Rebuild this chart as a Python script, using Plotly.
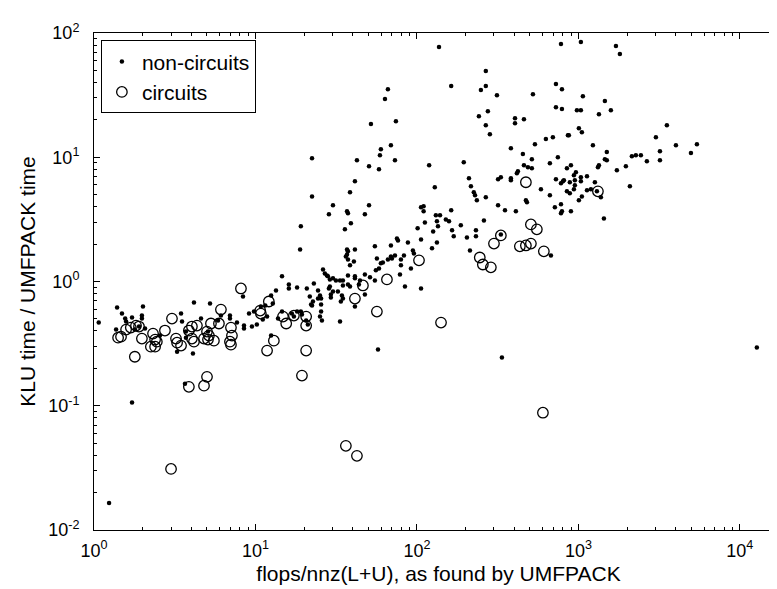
import math
import plotly.graph_objects as go

# ---- data (flops/nnz(L+U), KLU/UMFPACK time ratio) ----
noncircuit_flops = [
    1.07, 1.39, 1.49, 1.56, 1.58, 1.72, 1.98, 1.98, 2.01, 1.37,
    1.79, 1.90, 2.07, 2.56, 3.46, 3.51, 3.27, 3.71, 3.71, 4.16,
    4.10, 4.60, 5.23, 5.08, 5.86, 6.11, 6.95, 6.95, 7.68, 8.37,
    8.49, 8.49, 9.12, 9.79, 9.51, 10.2, 10.8, 11.5, 11.8, 1.24,
    1.72, 3.66, 12.5, 13.4, 12.8, 13.8, 14.6, 12.5, 16.8, 18.1,
    19.1, 19.4, 17.3, 22.4, 22.7, 16.1, 20.8, 11.1, 20.6, 21.1,
    33.4, 57.4, 14.6, 16.1, 18.1, 19.1, 18.9, 23.0, 24.4, 25.1,
    24.4, 21.7, 25.5, 22.1, 25.5, 25.5, 25.1, 25.8, 29.3, 29.3,
    26.2, 26.9, 27.7, 28.1, 28.9, 30.2, 31.5, 33.4, 34.8, 34.8,
    32.4, 28.9, 28.5, 30.2, 34.3, 34.8, 33.8, 41.3, 47.6, 37.4,
    38.5, 37.4, 41.3, 41.3, 43.7, 47.6, 44.4, 51.2, 54.9, 84.3,
    106, 28.5, 30.2, 36.9, 37.4, 35.8, 39.0, 47.6, 50.5, 36.9,
    37.4, 36.9, 36.3, 37.4, 41.3, 40.7, 38.5, 54.9, 69.0, 75.2,
    76.3, 87.9, 94.4, 95.8, 106, 110, 112, 101, 106, 83.1,
    79.6, 73.1, 69.0, 70.0, 66.1, 61.5, 56.5, 59.8, 58.2, 55.7,
    79.6, 78.5, 91.8, 137, 267, 163, 66.1, 63.4, 249, 267,
    313, 523, 726, 791, 726, 791, 780, 242, 275, 267,
    283, 405, 405, 460, 51.9, 74.1, 69.0, 59.8, 59.0, 58.2,
    73.1, 50.5, 42.5, 22.4, 119, 195, 382, 453, 538, 629,
    695, 746, 666, 515, 460, 487, 515, 422, 416, 382,
    382, 318, 331, 210, 216, 225, 229, 235, 267, 318,
    473, 480, 586, 666, 726, 802, 780, 715, 780, 129,
    110, 41.3, 38.5, 22.4, 849, 861, 351, 410, 791, 780,
    899, 1007, 1439, 163, 131, 139, 133, 135, 151, 158,
    126, 124, 133, 165, 169, 187, 204, 232, 232, 260,
    213, 331, 676, 336, 1036, 1708, 1807, 1066, 1459, 979,
    1036, 1340, 1589, 1007, 1051, 873, 1230, 1500, 1459, 1500,
    1340, 1321, 899, 965, 938, 1130, 1036, 1036, 813, 885,
    951, 951, 938, 1265, 849, 885, 1130, 1195, 1302, 1378,
    1051, 1731, 1968, 2144, 2270, 2438, 2655, 3199, 3199, 3020,
    3532, 4018, 4977, 5420, 2084, 12740,
]
noncircuit_ratio = [
    0.467, 0.617, 0.552, 0.503, 0.476, 0.513, 0.532, 0.503, 0.629, 0.410,
    0.410, 0.434, 0.418, 0.367, 0.552, 0.476, 0.272, 0.395, 0.353, 0.677,
    0.263, 0.503, 0.665, 0.395, 0.485, 0.532, 0.532, 0.503, 0.467, 0.757,
    0.442, 0.418, 0.552, 0.573, 0.434, 0.450, 0.629, 0.640, 0.522, 0.0165,
    0.106, 0.150, 0.771, 0.846, 0.665, 0.503, 0.573, 0.367, 0.552, 0.573,
    0.573, 0.542, 0.522, 0.640, 0.690, 0.879, 0.879, 0.494, 0.485, 0.450,
    0.476, 0.283, 1.10, 0.946, 0.895, 2.78, 1.81, 0.964, 0.846, 0.771,
    0.729, 0.757, 0.729, 0.653, 0.653, 0.573, 0.522, 0.485, 0.785, 0.743,
    1.25, 1.16, 1.12, 1.10, 1.04, 1.06, 1.02, 1.02, 1.02, 0.929,
    0.830, 0.911, 0.879, 0.830, 0.771, 0.729, 0.690, 0.629, 0.785, 1.12,
    0.911, 0.946, 1.10, 1.06, 0.946, 1.14, 1.02, 1.08, 1.02, 0.911,
    0.879, 3.47, 4.10, 3.67, 3.54, 2.63, 2.94, 3.47, 4.10, 1.81,
    1.75, 1.65, 1.59, 1.50, 1.81, 1.45, 1.35, 1.92, 1.95, 2.22,
    2.14, 2.06, 1.78, 1.68, 3.95, 3.67, 2.99, 2.68, 2.18, 1.62,
    1.50, 1.62, 1.59, 1.53, 1.50, 1.42, 1.53, 1.40, 1.27, 1.23,
    1.35, 1.14, 1.27, 77.1, 49.4, 37.4, 35.3, 29.4, 34.7, 37.4,
    31.6, 32.2, 38.8, 35.3, 25.3, 24.4, 81.5, 21.4, 23.5, 18.1,
    15.3, 20.6, 18.8, 20.2, 18.5, 19.5, 12.5, 11.6, 10.4, 8.00,
    9.46, 8.46, 9.46, 9.82, 8.62, 9.12, 11.8, 10.6, 12.7, 14.0,
    14.5, 10.0, 8.95, 9.63, 8.62, 8.30, 8.15, 7.71, 7.43, 6.77,
    6.53, 6.65, 6.90, 6.77, 5.84, 5.22, 4.94, 4.50, 4.76, 4.10,
    4.50, 4.34, 5.52, 4.94, 6.65, 6.40, 6.17, 3.95, 4.18, 5.73,
    4.03, 6.40, 5.22, 4.84, 8.15, 15.0, 3.74, 3.67, 3.67, 3.54,
    3.67, 4.50, 3.22, 3.74, 3.41, 3.41, 3.05, 2.78, 3.16, 3.05,
    2.53, 1.85, 2.06, 2.58, 2.31, 2.83, 2.26, 2.58, 2.31, 3.10,
    1.78, 2.39, 1.62, 0.244, 84.6, 78.5, 67.7, 31.0, 28.3, 23.9,
    23.9, 22.2, 23.9, 17.1, 15.9, 15.0, 12.5, 11.0, 9.63, 9.46,
    8.62, 8.30, 8.62, 7.57, 7.16, 7.03, 6.90, 6.40, 6.53, 6.29,
    6.53, 5.95, 5.52, 6.29, 5.32, 5.12, 5.42, 5.52, 5.32, 4.76,
    4.84, 7.86, 8.46, 10.2, 10.4, 10.4, 9.28, 9.46, 11.2, 14.5,
    18.1, 12.5, 10.8, 12.7, 5.84, 0.294,
]

circuit_flops = [
    8.13, 6.11, 3.04, 2.75, 2.32, 2.39, 2.25, 2.39, 2.45, 1.41,
    1.47, 1.58, 1.69, 1.82, 1.90, 1.98, 1.79, 3.22, 3.27, 3.46,
    3.87, 4.04, 4.34, 4.16, 4.04, 5.01, 5.15, 5.30, 4.80, 5.08,
    5.53, 5.94, 7.05, 7.15, 6.95, 7.05, 10.8, 10.7, 12.1, 11.8,
    13.0, 15.5, 14.8, 17.3, 19.4, 20.6, 20.6, 20.6, 5.01, 4.80,
    3.87, 3.00, 41.3, 46.3, 56.5, 65.2, 103, 141, 245, 256,
    287, 300, 331, 434, 473, 508, 508, 553, 611, 473,
    1321, 36.3, 42.5, 603,
]
circuit_ratio = [
    0.879, 0.594, 0.503, 0.403, 0.381, 0.341, 0.299, 0.299, 0.328, 0.353,
    0.360, 0.410, 0.426, 0.442, 0.434, 0.347, 0.248, 0.347, 0.322, 0.305,
    0.403, 0.434, 0.442, 0.328, 0.347, 0.395, 0.367, 0.459, 0.347, 0.341,
    0.334, 0.459, 0.426, 0.367, 0.328, 0.310, 0.552, 0.583, 0.690, 0.278,
    0.334, 0.459, 0.522, 0.532, 0.175, 0.278, 0.522, 0.442, 0.171, 0.145,
    0.142, 0.0310, 0.729, 0.929, 0.573, 1.04, 1.48, 0.467, 1.56, 1.37,
    1.30, 2.02, 2.35, 1.92, 1.95, 2.02, 2.88, 2.63, 1.75, 6.29,
    5.32, 0.0476, 0.0395, 0.0879,
]

assert len(noncircuit_flops) == len(noncircuit_ratio), (len(noncircuit_flops), len(noncircuit_ratio))
assert len(circuit_flops) == len(circuit_ratio), (len(circuit_flops), len(circuit_ratio))

x_tick_vals = [1, 10, 100, 1000, 10000]
x_tick_text = ["10<sup>0</sup>", "10<sup>1</sup>", "10<sup>2</sup>", "10<sup>3</sup>", "10<sup>4</sup>"]
y_tick_vals = [0.01, 0.1, 1, 10, 100]
y_tick_text = ["10<sup>-2</sup>", "10<sup>-1</sup>", "10<sup>0</sup>", "10<sup>1</sup>", "10<sup>2</sup>"]
x_limits = [1, 18500]
y_limits = [0.01, 100]
reference_ratio = 1.0


def minor_positions(lo_exp, hi_exp):
    return [m * 10.0 ** k for k in range(lo_exp, hi_exp) for m in range(2, 10)]


FONT = "Liberation Sans, Arial, Helvetica, sans-serif"

fig = go.Figure()
fig.add_trace(go.Scatter(
    x=noncircuit_flops, y=noncircuit_ratio, mode="markers", name="non-circuits",
    marker=dict(symbol="circle", size=4.5, color="black", line=dict(width=0)),
))
fig.add_trace(go.Scatter(
    x=circuit_flops, y=circuit_ratio, mode="markers", name="circuits",
    marker=dict(symbol="circle-open", size=10.5, color="black", line=dict(width=1.3, color="black")),
))

fig.add_shape(type="line", xref="paper", yref="y", x0=0, x1=1,
              y0=math.log10(reference_ratio), y1=math.log10(reference_ratio),
              line=dict(color="#333333", width=1.6), layer="above")

axis_common = dict(
    type="log", showgrid=False, zeroline=False, showline=True, linecolor="black",
    linewidth=1, mirror="ticks", ticks="inside", ticklen=6, tickwidth=1, tickcolor="black",
    tickfont=dict(family=FONT, size=18, color="black"),
)

fig.update_xaxes(
    range=[math.log10(x_limits[0]), math.log10(x_limits[1])],
    tickvals=x_tick_vals, ticktext=x_tick_text, ticklabelstandoff=4,
    minor=dict(tickmode="array", tickvals=minor_positions(0, 5), ticks="inside",
               ticklen=3, tickcolor="black", showgrid=False),
    title=dict(text="flops/nnz(L+U), as found by UMFPACK",
               font=dict(family=FONT, size=21, color="black"), standoff=6),
    **axis_common,
)
fig.update_yaxes(
    range=[math.log10(y_limits[0]), math.log10(y_limits[1])],
    tickvals=y_tick_vals, ticktext=y_tick_text, ticklabelstandoff=10,
    minor=dict(tickmode="array", tickvals=minor_positions(-2, 2), ticks="inside",
               ticklen=3, tickcolor="black", showgrid=False),
    title=dict(text="KLU time / UMFPACK time",
               font=dict(family=FONT, size=21, color="black"), standoff=6),
    **axis_common,
)

fig.update_layout(
    width=777, height=589,
    margin=dict(l=86, r=2, t=25, b=67),
    plot_bgcolor="white", paper_bgcolor="white",
    font=dict(family=FONT, size=18, color="black"),
    legend=dict(
        x=0.01, y=0.985, xanchor="left", yanchor="top",
        bordercolor="black", borderwidth=1, bgcolor="white",
        font=dict(family=FONT, size=21, color="black"),
        itemsizing="trace", tracegroupgap=0,
        entrywidth=170, entrywidthmode="pixels",
    ),
    showlegend=True,
)

fig.write_html("out.html")
